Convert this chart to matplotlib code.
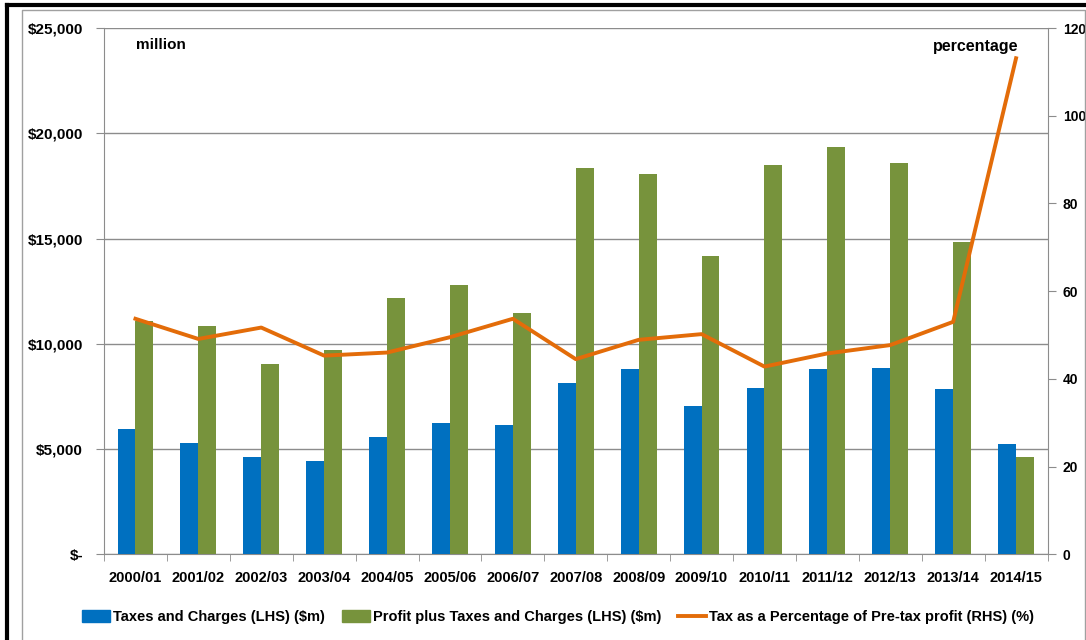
import matplotlib
matplotlib.use("Agg")
import matplotlib.pyplot as plt
import numpy as np
from matplotlib.lines import Line2D
from matplotlib.patches import Patch

years = ["2000/01", "2001/02", "2002/03", "2003/04", "2004/05", "2005/06", "2006/07",
         "2007/08", "2008/09", "2009/10", "2010/11", "2011/12", "2012/13", "2013/14", "2014/15"]
taxes = [5970, 5300, 4630, 4410, 5590, 6250, 6160, 8140, 8780, 7060, 7920, 8810, 8860, 7870, 5220]
profit_plus_taxes = [11090, 10860, 9050, 9710, 12170, 12790, 11480, 18330, 18060, 14160,
                     18490, 19330, 18590, 14820, 4630]
tax_pct = [53.7, 49.1, 51.7, 45.3, 46.0, 49.5, 53.7, 44.5, 48.9, 50.2, 42.8, 45.8, 47.7, 53.0, 113.1]

left_ticks = [0, 5000, 10000, 15000, 20000, 25000]
left_labels = ["$-", "$5,000", "$10,000", "$15,000", "$20,000", "$25,000"]
right_ticks = [0, 20, 40, 60, 80, 100, 120]

BLUE = "#0070C0"
GREEN = "#77933C"
ORANGE = "#E36C09"
GRID = "#8c8c8c"

FONT = ["Liberation Sans", "DejaVu Sans"]

fig = plt.figure(figsize=(10.86, 6.4), dpi=100)
ax = fig.add_axes([104 / 1086, 1 - 554.3 / 640, (1047.5 - 104) / 1086, (554.3 - 28) / 640])
ax2 = ax.twinx()

x = np.arange(len(years))
w = 0.285
ax.bar(x - w / 2, taxes, width=w, color=BLUE, zorder=3)
ax.bar(x + w / 2, profit_plus_taxes, width=w, color=GREEN, zorder=3)
ax2.plot(x, tax_pct, color=ORANGE, lw=2.8, zorder=4)

ax.set_xlim(-0.5, len(years) - 0.5)
ax.set_ylim(0, 25000)
ax2.set_ylim(0, 120)

ax.set_yticks(left_ticks)
ax.set_yticklabels(left_labels, fontfamily=FONT, fontweight="bold", fontsize=11)
ax2.set_yticks(right_ticks)
ax2.set_yticklabels([str(t) for t in right_ticks], fontfamily=FONT, fontweight="bold", fontsize=10)

ax.set_xticks(x)
ax.set_xticklabels(years, fontfamily=FONT, fontweight="bold", fontsize=10.5)
ax.set_xticks(np.arange(-0.5, len(years), 1.0), minor=True)
ax.tick_params(axis="x", which="major", length=0, pad=12)
ax.tick_params(axis="x", which="minor", length=5, color=GRID, direction="out")
ax.tick_params(axis="y", length=6, color=GRID, pad=9, direction="out")
ax2.tick_params(axis="y", length=6, color=GRID, pad=5, direction="out")

ax.grid(axis="y", color=GRID, lw=1, zorder=0)
ax.set_axisbelow(True)
for a in (ax, ax2):
    for s in a.spines.values():
        s.set_visible(False)
ax.spines["left"].set_visible(True)
ax.spines["left"].set_color(GRID)
ax.spines["bottom"].set_visible(True)
ax.spines["bottom"].set_color(GRID)
ax2.spines["right"].set_visible(True)
ax2.spines["right"].set_color(GRID)

ax.text(136 / 1086, 1 - 45 / 640, "million", transform=fig.transFigure, fontfamily=FONT,
        fontweight="bold", fontsize=11, va="center", ha="left")
ax.text(1018 / 1086, 1 - 46 / 640, "percentage", transform=fig.transFigure, fontfamily=FONT,
        fontweight="bold", fontsize=11.5, va="center", ha="right")

handles = [Patch(color=BLUE), Patch(color=GREEN), Line2D([], [], color=ORANGE, lw=2.8)]
labels = ["Taxes and Charges (LHS) ($m)", "Profit plus Taxes and Charges (LHS) ($m)",
          "Tax as a Percentage of Pre-tax profit (RHS) (%)"]
fig.legend(handles, labels, loc="center", bbox_to_anchor=(558 / 1086, 1 - 617 / 640), ncol=3,
           frameon=False, prop={"family": FONT, "weight": "bold", "size": 10.5},
           handlelength=1.9, handleheight=0.85, handletextpad=0.2, columnspacing=1.2)

# chart frame decorations
fig.add_artist(Line2D([7 / 1086, 7 / 1086], [0, 1 - 5 / 640], transform=fig.transFigure,
                      color="black", lw=3))
fig.add_artist(Line2D([7 / 1086, 1], [1 - 5 / 640, 1 - 5 / 640], transform=fig.transFigure,
                      color="black", lw=3))
fig.add_artist(Line2D([22 / 1086, 22 / 1086, 1085 / 1086, 1085 / 1086],
                      [0, 1 - 9.5 / 640, 1 - 9.5 / 640, 0], transform=fig.transFigure,
                      color="#a0a0a0", lw=1))

fig.savefig("out.png", dpi=100)
